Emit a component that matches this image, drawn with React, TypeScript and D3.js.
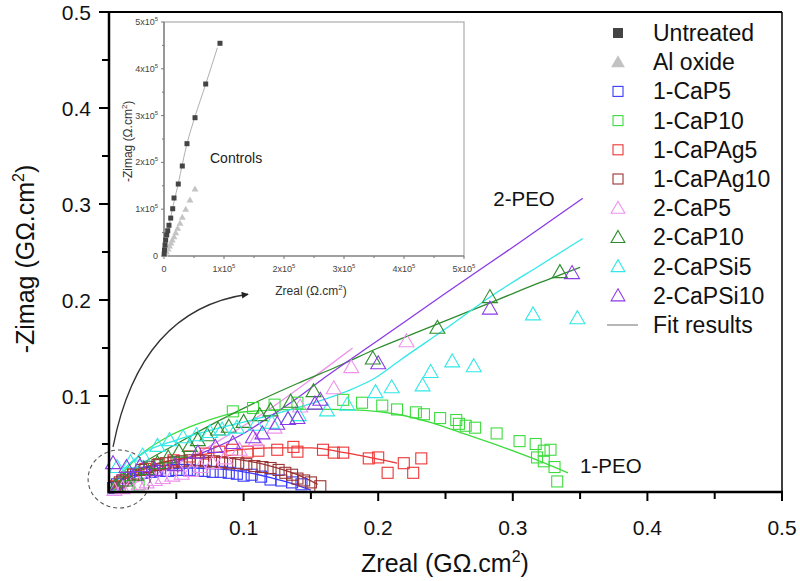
import React from "react";
import * as d3 from "d3";

type P = [number, number];

// ---------- tick values ----------
const xTicks = [0.1, 0.2, 0.3, 0.4, 0.5];
const xMinorTicks = [0.05, 0.15, 0.25, 0.35, 0.45];
const yTicks = [0.1, 0.2, 0.3, 0.4, 0.5];
const yMinorTicks = [0.05, 0.15, 0.25, 0.35, 0.45];
const insetTicks = [0, 1, 2, 3, 4, 5]; // x10^5
const insetMinorTicks = [0.5, 1.5, 2.5, 3.5, 4.5];

// ---------- inset data (units of 1e5 Ω.cm²) ----------
const untreated: P[] = [
  [0.003, 0.043], [0.008, 0.128], [0.017, 0.235], [0.028, 0.34], [0.045, 0.45],
  [0.062, 0.54], [0.083, 0.656], [0.112, 0.81], [0.145, 1.01], [0.167, 1.239],
  [0.238, 1.538], [0.305, 1.923], [0.383, 2.4], [0.517, 2.955], [0.695, 3.675], [0.933, 4.545],
];
const alOxide: P[] = [
  [0.017, 0.032], [0.042, 0.085], [0.067, 0.15], [0.092, 0.214], [0.117, 0.278],
  [0.138, 0.342], [0.167, 0.412], [0.195, 0.498], [0.228, 0.592], [0.267, 0.699],
  [0.305, 0.827], [0.362, 0.998], [0.433, 1.197], [0.517, 1.43],
];
const untreatedFit: P[] = [
  [0, 0], [0.1, 0.75], [0.238, 1.55], [0.383, 2.4], [0.517, 2.98], [0.695, 3.67], [0.89, 4.45],
];

// ---------- main data (GΩ.cm²) ----------
const cap5_1: P[] = [
  [0.003, 0.004], [0.006, 0.008], [0.010, 0.012], [0.015, 0.015], [0.020, 0.018],
  [0.026, 0.020], [0.032, 0.021], [0.038, 0.022], [0.044, 0.022], [0.050, 0.023],
  [0.055, 0.023], [0.060, 0.023], [0.066, 0.022], [0.071, 0.022], [0.077, 0.021],
  [0.083, 0.021], [0.089, 0.020], [0.095, 0.019], [0.100, 0.017], [0.106, 0.018],
  [0.113, 0.016], [0.120, 0.013], [0.128, 0.012], [0.136, 0.010], [0.143, 0.008],
];
const cap10_1: P[] = [
  [0.008, 0.005], [0.015, 0.006], [0.022, 0.008],
  [0.092, 0.084], [0.107, 0.0875], [0.123, 0.091], [0.140, 0.093], [0.174, 0.096],
  [0.188, 0.093], [0.203, 0.090], [0.214, 0.086], [0.228, 0.083], [0.234, 0.081],
  [0.246, 0.077], [0.258, 0.075], [0.260, 0.071], [0.265, 0.069], [0.272, 0.067],
  [0.288, 0.061], [0.305, 0.053], [0.317, 0.050], [0.323, 0.043], [0.328, 0.044],
  [0.318, 0.036], [0.323, 0.032], [0.331, 0.026], [0.333, 0.011],
];
const capag5_1: P[] = [
  [0.004, 0.006], [0.010, 0.012], [0.018, 0.018], [0.027, 0.024], [0.037, 0.029],
  [0.048, 0.033], [0.060, 0.037], [0.072, 0.040], [0.082, 0.042],
  [0.0915, 0.044], [0.103, 0.042], [0.111, 0.043], [0.125, 0.044], [0.137, 0.047],
  [0.140, 0.042], [0.159, 0.044], [0.167, 0.041], [0.174, 0.041], [0.193, 0.035],
  [0.200, 0.036], [0.207, 0.020], [0.219, 0.030], [0.226, 0.020], [0.232, 0.035],
];
const capag10_1: P[] = [
  [0.004, 0.005], [0.008, 0.010], [0.013, 0.015], [0.018, 0.019], [0.024, 0.023],
  [0.030, 0.026], [0.036, 0.028], [0.042, 0.030], [0.048, 0.031], [0.054, 0.032],
  [0.060, 0.033], [0.066, 0.033], [0.072, 0.032], [0.078, 0.032], [0.084, 0.031],
  [0.090, 0.030], [0.096, 0.030], [0.102, 0.029], [0.108, 0.027], [0.114, 0.026],
  [0.120, 0.025], [0.126, 0.023], [0.131, 0.020], [0.136, 0.018], [0.140, 0.014],
  [0.145, 0.012], [0.150, 0.010], [0.157, 0.006],
];
const cap5_2: P[] = [
  [0.004, 0.002], [0.010, 0.004], [0.016, 0.006], [0.022, 0.008], [0.028, 0.010],
  [0.034, 0.0125], [0.040, 0.0145], [0.047, 0.017], [0.054, 0.019], [0.061, 0.022],
  [0.068, 0.026], [0.077, 0.030], [0.086, 0.035], [0.097, 0.044], [0.109, 0.054],
  [0.123, 0.067], [0.142, 0.089], [0.167, 0.108], [0.180, 0.130], [0.221, 0.157],
];
const cap10_2: P[] = [
  [0.005, 0.006], [0.012, 0.012], [0.020, 0.018], [0.028, 0.024], [0.036, 0.030],
  [0.044, 0.036], [0.052, 0.042], [0.060, 0.048], [0.066, 0.054],
  [0.073, 0.059], [0.081, 0.065], [0.089, 0.068], [0.100, 0.073], [0.112, 0.080],
  [0.120, 0.085], [0.135, 0.094], [0.152, 0.105], [0.196, 0.139], [0.244, 0.171],
  [0.283, 0.203], [0.335, 0.229],
];
const capsi5_2: P[] = [
  [0.006, 0.026], [0.016, 0.031], [0.025, 0.038], [0.036, 0.048], [0.045, 0.054],
  [0.055, 0.057], [0.065, 0.059], [0.075, 0.0625], [0.084, 0.065], [0.095, 0.067],
  [0.109, 0.070], [0.121, 0.072], [0.133, 0.076], [0.141, 0.080], [0.162, 0.085],
  [0.177, 0.091], [0.198, 0.104], [0.210, 0.109], [0.233, 0.111], [0.239, 0.125],
  [0.255, 0.136], [0.271, 0.131], [0.315, 0.185], [0.348, 0.181],
];
const capsi10_2: P[] = [
  [0.003, 0.030], [0.013, 0.026], [0.023, 0.027], [0.034, 0.023], [0.049, 0.028],
  [0.066, 0.041], [0.079, 0.047], [0.092, 0.051], [0.107, 0.057], [0.114, 0.061],
  [0.125, 0.071], [0.133, 0.076], [0.140, 0.077], [0.153, 0.092], [0.157, 0.096],
  [0.200, 0.134], [0.283, 0.191], [0.344, 0.228],
];

// ---------- fit results ----------
const fitCap5_1: P[] = [
  [0, 0], [0.01, 0.012], [0.02, 0.018], [0.04, 0.023], [0.06, 0.025], [0.08, 0.024],
  [0.10, 0.021], [0.12, 0.015], [0.14, 0.007], [0.15, 0.002],
];
const fitCap10_1: P[] = [
  [0, 0.002], [0.021, 0.036], [0.043, 0.057], [0.068, 0.072], [0.092, 0.082],
  [0.117, 0.085], [0.142, 0.086], [0.164, 0.086], [0.19, 0.085], [0.214, 0.081],
  [0.24, 0.072], [0.263, 0.061], [0.29, 0.048], [0.313, 0.036], [0.341, 0.020],
];
const fitCapag5_1: P[] = [
  [0, 0], [0.01, 0.012], [0.03, 0.026], [0.05, 0.034], [0.07, 0.039], [0.09, 0.043],
  [0.12, 0.046], [0.15, 0.046], [0.175, 0.041], [0.19, 0.037], [0.214, 0.030],
];
const fitCapag10_1: P[] = [
  [0, 0], [0.01, 0.014], [0.02, 0.022], [0.04, 0.031], [0.06, 0.035], [0.08, 0.036],
  [0.10, 0.033], [0.12, 0.027], [0.14, 0.018], [0.155, 0.008],
];
const fitCap5_2: P[] = [
  [0, 0.001], [0.02, 0.010], [0.04, 0.022], [0.06, 0.036], [0.08, 0.052],
  [0.10, 0.069], [0.12, 0.087], [0.14, 0.107], [0.16, 0.128], [0.181, 0.150],
];
const fitCap10_2: P[] = [
  [0.002, 0.004], [0.02, 0.025], [0.05, 0.050], [0.08, 0.073], [0.11, 0.094],
  [0.14, 0.113], [0.17, 0.131], [0.20, 0.150], [0.23, 0.167], [0.26, 0.184],
  [0.29, 0.201], [0.32, 0.218], [0.35, 0.234],
];
const fitCapsi5_2: P[] = [
  [0, 0.002], [0.01, 0.022], [0.025, 0.040], [0.05, 0.054], [0.086, 0.068],
  [0.12, 0.080], [0.15, 0.092], [0.175, 0.104], [0.198, 0.119], [0.216, 0.137],
  [0.25, 0.170], [0.285, 0.205], [0.32, 0.236], [0.352, 0.264],
];
const fitCapsi10_2: P[] = [
  [0, 0.003], [0.02, 0.016], [0.04, 0.027], [0.06, 0.036], [0.08, 0.047],
  [0.10, 0.061], [0.12, 0.079], [0.14, 0.098], [0.16, 0.119], [0.20, 0.158],
  [0.25, 0.207], [0.30, 0.255], [0.352, 0.306],
];

// ---------- series / legend ----------
const seriesNames = [
  "1-CaP5", "1-CaP10", "1-CaPAg5", "1-CaPAg10",
  "2-CaP5", "2-CaP10", "2-CaPSi5", "2-CaPSi10",
];
const seriesColors = [
  "#3a3aff", "#3ddc3d", "#ee3535", "#9a3434",
  "#ee92ee", "#2e8c2e", "#33e8e8", "#8a3ae6",
];
const seriesShapes = ["square", "square", "square", "square", "triangle", "triangle", "triangle", "triangle"];
const seriesData = [cap5_1, cap10_1, capag5_1, capag10_1, cap5_2, cap10_2, capsi5_2, capsi10_2];
const seriesFits = [fitCap5_1, fitCap10_1, fitCapag5_1, fitCapag10_1, fitCap5_2, fitCap10_2, fitCapsi5_2, fitCapsi10_2];

const FONT = "'Liberation Sans', Arial, Helvetica, sans-serif";

const W = 800;
const H = 581;

const x = d3.scaleLinear().domain([0, 0.5]).range([109, 782]);
const y = d3.scaleLinear().domain([0, 0.5]).range([492, 12]);
const ix = d3.scaleLinear().domain([0, 5]).range([164, 464]);
const iy = d3.scaleLinear().domain([0, 5]).range([256, 22]);

function triPoints(cx: number, cy: number, w: number, h: number) {
  return `${cx},${cy - h * 0.58} ${cx + w / 2},${cy + h * 0.42} ${cx - w / 2},${cy + h * 0.42}`;
}

function Marker({ shape, cx, cy, color, size, filled }: any) {
  if (shape === "square") {
    return (
      <rect
        x={cx - size / 2}
        y={cy - size / 2}
        width={size}
        height={size}
        fill={filled ? color : "none"}
        stroke={color}
        strokeWidth={filled ? 0 : 1.1}
      />
    );
  }
  return (
    <polygon
      points={triPoints(cx, cy, size * 1.15, size)}
      fill={filled ? color : "none"}
      stroke={color}
      strokeWidth={filled ? 0 : 1.1}
      strokeLinejoin="miter"
    />
  );
}

export default function App() {
  const line = d3
    .line<P>()
    .x((d) => x(d[0]))
    .y((d) => y(d[1]))
    .curve(d3.curveMonotoneX);
  const insetLine = d3
    .line<P>()
    .x((d) => ix(d[0]))
    .y((d) => iy(d[1]))
    .curve(d3.curveMonotoneX);

  // arrow annotation (in data units)
  const a0: P = [0.003, 0.047];
  const aC: P = [0.023, 0.19];
  const a1: P = [0.1033, 0.206];
  const arrowPath = d3.path();
  arrowPath.moveTo(x(a0[0]), y(a0[1]));
  arrowPath.quadraticCurveTo(x(aC[0]), y(aC[1]), x(a1[0]), y(a1[1]));

  const legendItems = [
    { label: "Untreated", shape: "square", color: "#444444", filled: true, size: 10 },
    { label: "Al oxide", shape: "triangle", color: "#c2c2c2", filled: true, size: 12 },
    ...seriesNames.map((n, i) => ({
      label: n,
      shape: seriesShapes[i],
      color: seriesColors[i],
      filled: false,
      size: seriesShapes[i] === "square" ? 10 : 12,
    })),
  ];
  const legendY0 = 33;
  const legendStep = 29.2;

  const sup = (s: string, size: number, dy: number) => (
    <tspan fontSize={size} dy={-dy}>
      {s}
    </tspan>
  );

  return (
    <div style={{ position: "absolute", left: 0, top: 0 }}>
      <svg width={W} height={H} style={{ display: "block", background: "#fff" }} fontFamily={FONT}>
        <rect x={0} y={0} width={W} height={H} fill="#fff" />

        {/* fit lines */}
        {seriesFits.map((f, i) => (
          <path key={"f" + i} d={line(f) || ""} fill="none" stroke={seriesColors[i]} strokeWidth={1.3} />
        ))}

        {/* markers */}
        {seriesData.map((data, i) =>
          data.map((d, j) => (
            <Marker
              key={`m${i}-${j}`}
              shape={seriesShapes[i]}
              cx={x(d[0])}
              cy={y(d[1])}
              color={seriesColors[i]}
              size={seriesShapes[i] === "square" ? 11 : 13}
              filled={false}
            />
          ))
        )}

        {/* dashed circle */}
        <ellipse
          cx={x(0.0075)}
          cy={y(0.0135)}
          rx={31}
          ry={29}
          fill="none"
          stroke="#555"
          strokeWidth={1.1}
          strokeDasharray="4,3"
        />

        {/* curved arrow */}
        <defs>
          <marker id="ah" viewBox="0 0 10 10" refX="9" refY="5" markerWidth="9" markerHeight="7" orient="auto" markerUnits="userSpaceOnUse">
            <path d="M0,0 L10,5 L0,10 z" fill="#222" />
          </marker>
        </defs>
        <path d={arrowPath.toString()} fill="none" stroke="#333" strokeWidth={1.3} markerEnd="url(#ah)" />

        {/* annotations */}
        <text x={x(0.2855)} y={y(0.298)} fontSize={20.5} fill="#111">2-PEO</text>
        <text x={x(0.350)} y={y(0.0198)} fontSize={20.5} fill="#111">1-PEO</text>

        {/* ===== inset ===== */}
        <rect x={ix(0)} y={iy(5)} width={ix(5) - ix(0)} height={iy(0) - iy(5)} fill="#fff" stroke="#999" strokeWidth={1} />
        <line x1={ix(0)} x2={ix(0)} y1={iy(0)} y2={iy(5)} stroke="#777" strokeWidth={1.2} />
        <line x1={ix(0)} x2={ix(5)} y1={iy(0)} y2={iy(0)} stroke="#777" strokeWidth={1.2} />
        {insetTicks.map((t) => (
          <g key={"ixt" + t}>
            <line x1={ix(t)} x2={ix(t)} y1={iy(0)} y2={iy(0) + 3} stroke="#777" />
            <line x1={ix(0)} x2={ix(0) - 3} y1={iy(t)} y2={iy(t)} stroke="#777" />
            <text x={ix(t)} y={iy(0) + 16} fontSize={9} textAnchor="middle" fill="#444">
              {t === 0 ? "0" : <>{`${t}x10`}<tspan fontSize={6} dy={-4}>5</tspan></>}
            </text>
            <text x={ix(0) - 6} y={iy(t) + 3} fontSize={9} textAnchor="end" fill="#444">
              {t === 0 ? "0" : <>{`${t}x10`}<tspan fontSize={6} dy={-4}>5</tspan></>}
            </text>
          </g>
        ))}
        {insetMinorTicks.map((t) => (
          <g key={"imt" + t}>
            <line x1={ix(t)} x2={ix(t)} y1={iy(0)} y2={iy(0) + 2} stroke="#777" />
            <line x1={ix(0)} x2={ix(0) - 2} y1={iy(t)} y2={iy(t)} stroke="#777" />
          </g>
        ))}
        <path d={insetLine(untreatedFit) || ""} fill="none" stroke="#b0b0b0" strokeWidth={1} />
        {alOxide.map((d, j) => (
          <Marker key={"al" + j} shape="triangle" cx={ix(d[0])} cy={iy(d[1])} color="#c4c4c4" size={6} filled />
        ))}
        {untreated.map((d, j) => (
          <Marker key={"un" + j} shape="square" cx={ix(d[0])} cy={iy(d[1])} color="#444" size={5} filled />
        ))}
        <text x={210} y={iy(2.1) + 5} fontSize={14} fill="#222">Controls</text>
        <text x={ix(2.45)} y={iy(0) + 39} fontSize={12} textAnchor="middle" fill="#333">
          Zreal (Ω.cm<tspan fontSize={8} dy={-5}>2</tspan><tspan dy={5}>)</tspan>
        </text>
        <text
          transform={`translate(${132},${iy(2.45)}) rotate(-90)`}
          fontSize={12}
          textAnchor="middle"
          fill="#333"
        >
          -Zimag (Ω.cm<tspan fontSize={8} dy={-5}>2</tspan><tspan dy={5}>)</tspan>
        </text>

        {/* ===== main axes ===== */}
        <line x1={x(0)} x2={x(0.5)} y1={y(0.5)} y2={y(0.5)} stroke="#000" strokeWidth={2} />
        <line x1={x(0.5)} x2={x(0.5)} y1={y(0.5)} y2={y(0)} stroke="#000" strokeWidth={1.5} />
        <line x1={x(0)} x2={x(0)} y1={y(0.5) - 1} y2={y(0) + 1} stroke="#000" strokeWidth={2.5} />
        <line x1={x(0) - 1} x2={x(0.5) + 1} y1={y(0)} y2={y(0)} stroke="#000" strokeWidth={2.5} />

        {xTicks.map((t) => (
          <g key={"xt" + t}>
            <line x1={x(t)} x2={x(t)} y1={y(0)} y2={y(0) + 9} stroke="#000" strokeWidth={2} />
            <text x={x(t)} y={y(0) + 43} fontSize={21} textAnchor="middle" fill="#111">
              {t.toFixed(1)}
            </text>
          </g>
        ))}
        {xMinorTicks.map((t) => (
          <line key={"xm" + t} x1={x(t)} x2={x(t)} y1={y(0)} y2={y(0) + 7} stroke="#000" strokeWidth={2} />
        ))}
        {yTicks.map((t) => (
          <g key={"yt" + t}>
            <line x1={x(0)} x2={x(0) - 10} y1={y(t)} y2={y(t)} stroke="#000" strokeWidth={2} />
            <text x={91} y={y(t) + 7.5} fontSize={21} textAnchor="end" fill="#111">
              {t.toFixed(1)}
            </text>
          </g>
        ))}
        {yMinorTicks.map((t) => (
          <line key={"ym" + t} x1={x(0)} x2={x(0) - 7} y1={y(t)} y2={y(t)} stroke="#000" strokeWidth={2} />
        ))}

        {/* axis titles */}
        <text x={445} y={572} fontSize={25} textAnchor="middle" fill="#111">
          Zreal (GΩ.cm<tspan fontSize={16} dy={-10}>2</tspan><tspan dy={10}>)</tspan>
        </text>
        <text transform={`translate(34,259) rotate(-90)`} fontSize={25} textAnchor="middle" fill="#111">
          -Zimag (GΩ.cm<tspan fontSize={16} dy={-10}>2</tspan><tspan dy={10}>)</tspan>
        </text>

        {/* legend */}
        {legendItems.map((it, i) => (
          <g key={"lg" + i}>
            <Marker shape={it.shape} cx={618} cy={legendY0 + i * legendStep} color={it.color} size={it.size} filled={it.filled} />
            <text x={653} y={legendY0 + i * legendStep + 8} fontSize={23} fill="#111">
              {it.label}
            </text>
          </g>
        ))}
        <line
          x1={607}
          x2={638}
          y1={legendY0 + legendItems.length * legendStep}
          y2={legendY0 + legendItems.length * legendStep}
          stroke="#888"
          strokeWidth={1.2}
        />
        <text x={653} y={legendY0 + legendItems.length * legendStep + 8} fontSize={23} fill="#111">
          Fit results
        </text>
      </svg>
    </div>
  );
}
